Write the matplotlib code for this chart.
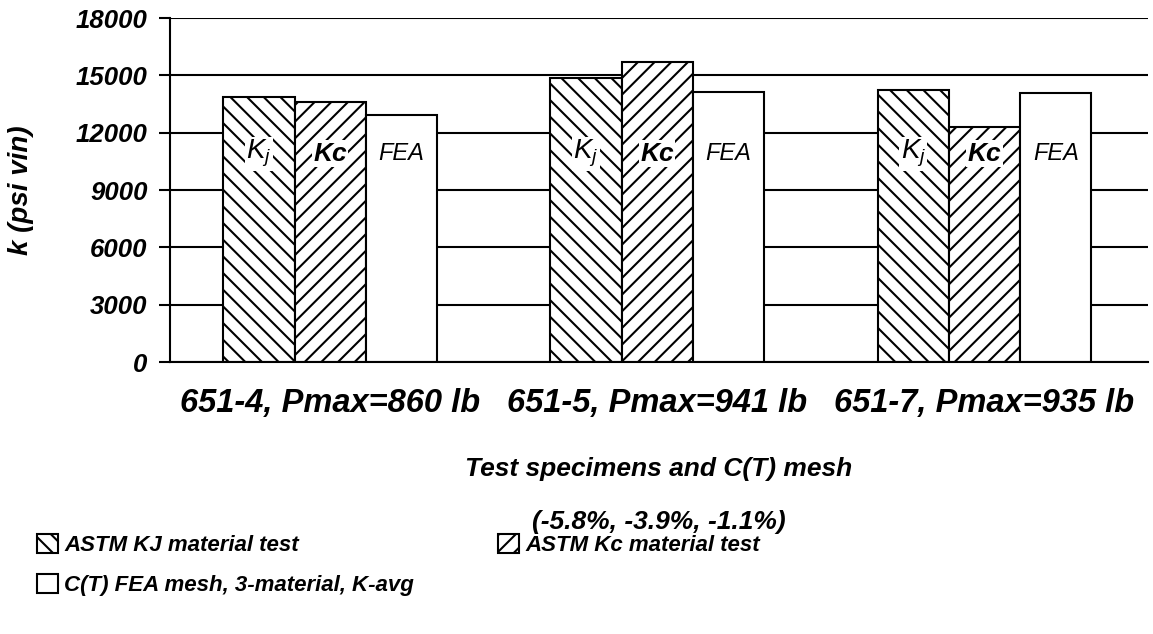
import numpy as np
import matplotlib
matplotlib.use("Agg")
import matplotlib.pyplot as plt
from matplotlib.patches import Patch

# dane
probki = ["651-4, Pmax=860 lb", "651-5, Pmax=941 lb", "651-7, Pmax=935 lb"]
k_j = [13850, 14850, 14250]
k_c = [13600, 15700, 12300]
fea = [12900, 14150, 14100]
y_ticks = [0, 3000, 6000, 9000, 12000, 15000, 18000]
etykiety_legendy = ["ASTM KJ material test", "ASTM Kc material test",
                    "C(T) FEA mesh, 3-material, K-avg"]

plt.rcParams['font.family'] = ['Liberation Sans', 'DejaVu Sans']
plt.rcParams['mathtext.fontset'] = 'custom'
plt.rcParams['mathtext.it'] = 'Liberation Sans:italic'
plt.rcParams['mathtext.rm'] = 'Liberation Sans'
plt.rcParams['hatch.linewidth'] = 1.5

fig = plt.figure(figsize=(11.53, 6.34), dpi=100)
ax = fig.add_axes([0.1474, 0.429, 0.8483, 0.5426])

x = np.arange(len(probki))
w = 0.218

ax.bar(x - w, k_j, w, color="white", edgecolor="black", linewidth=1.5, hatch="\\\\", zorder=2)
ax.bar(x, k_c, w, color="white", edgecolor="black", linewidth=1.5, hatch="//", zorder=2)
ax.bar(x + w, fea, w, color="white", edgecolor="black", linewidth=1.5, zorder=2)

# napisy w slupkach
for i in x:
    ax.text(i - w, 10900, "$K_j$", ha="center", va="center", fontsize=20,
            zorder=3, bbox=dict(facecolor="white", edgecolor="none", pad=1))
    ax.text(i, 10900, "Kc", ha="center", va="center", fontsize=19,
            style="italic", weight="bold", zorder=3,
            bbox=dict(facecolor="white", edgecolor="none", pad=1))
    ax.text(i + w, 10900, "FEA", ha="center", va="center", fontsize=17,
            style="italic", zorder=3)

ax.set_xlim(-0.49, 2.5)
ax.set_ylim(0, 18000)
ax.set_yticks(y_ticks)
ax.set_yticklabels([str(t) for t in y_ticks], fontsize=18.5, style="italic", weight="bold")
ax.set_xticks(x)
ax.set_xticklabels(probki, fontsize=23.5, style="italic", weight="bold")
ax.tick_params(axis="x", length=0, pad=19)
ax.tick_params(axis="y", length=8, width=1.5, pad=8)
ax.set_axisbelow(True)
ax.yaxis.grid(True, color="black", linewidth=1.5)
for s in ["top", "right"]:
    ax.spines[s].set_visible(False)
ax.spines["left"].set_linewidth(1.5)
ax.spines["bottom"].set_linewidth(1.5)

fig.text(0.5716, 1 - 469 / 634, "Test specimens and C(T) mesh", ha="center", va="center",
         fontsize=19, style="italic", weight="bold")
fig.text(0.5716, 1 - 522 / 634, "(-5.8%, -3.9%, -1.1%)", ha="center", va="center",
         fontsize=19, style="italic", weight="bold")
fig.text(0.018, 1 - 190 / 634, "k (psi vin)", ha="center", va="center", rotation=90,
         fontsize=20, style="italic", weight="bold")

uchwyty = [Patch(facecolor="white", edgecolor="black", hatch="\\\\", linewidth=1.5),
           Patch(facecolor="white", edgecolor="black", hatch="//", linewidth=1.5),
           Patch(facecolor="white", edgecolor="black", linewidth=1.5)]
kolejnosc = [0, 2, 1]
fig.legend([uchwyty[i] for i in kolejnosc], [etykiety_legendy[i] for i in kolejnosc],
           ncol=2, loc="upper left", bbox_to_anchor=(0.0243, 1 - 525 / 634),
           borderaxespad=0, frameon=False, handlelength=0.95, handleheight=0.95,
           handletextpad=0.27, columnspacing=3.8, labelspacing=0.8,
           prop=dict(size=16, style="italic", weight="bold"))

fig.savefig("out.png", dpi=100)
